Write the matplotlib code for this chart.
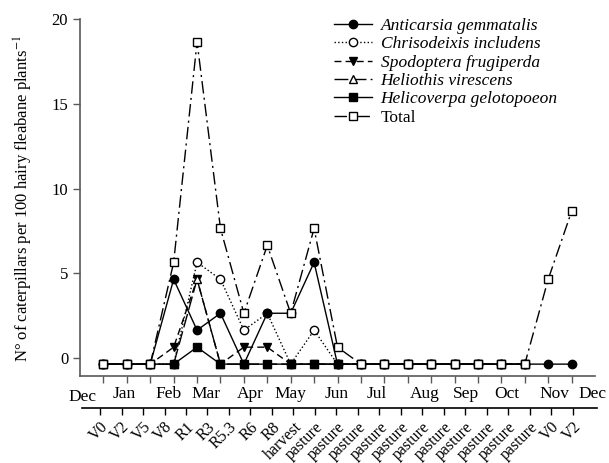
import numpy as np
import matplotlib
matplotlib.use('Agg')
import matplotlib.pyplot as plt

plt.rcParams['font.family'] = ['Liberation Serif', 'DejaVu Serif']
plt.rcParams['mathtext.fontset'] = 'stix'

# 数据 (21 个采样日期)
nan = np.nan
anticarsia = [-0.35, -0.35, -0.35, 4.65, 1.65, 2.65, -0.35, 2.65, 2.65, 5.65, -0.35,
              -0.35, -0.35, -0.35, -0.35, -0.35, -0.35, -0.35, -0.35, -0.35, -0.35]
chrisodeixis = [-0.35, -0.35, -0.35, -0.35, 5.65, 4.65, 1.65, 2.65, -0.35, 1.65, -0.35,
                -0.35, -0.35, -0.35, -0.35, -0.35, -0.35, -0.35, -0.35, nan, nan]
spodoptera = [-0.35, -0.35, -0.35, 0.65, 4.65, -0.35, 0.65, 0.65, -0.35, -0.35, -0.35,
              -0.35, -0.35, -0.35, -0.35, -0.35, -0.35, -0.35, -0.35, nan, nan]
heliothis = [-0.35, -0.35, -0.35, -0.35, 4.65, -0.35, -0.35, -0.35, -0.35, -0.35, -0.35,
             -0.35, -0.35, -0.35, -0.35, -0.35, -0.35, -0.35, -0.35, nan, nan]
helicoverpa = [-0.35, -0.35, -0.35, -0.35, 0.65, -0.35, -0.35, -0.35, -0.35, -0.35, -0.35,
               -0.35, -0.35, -0.35, -0.35, -0.35, -0.35, -0.35, -0.35, nan, nan]
total = [-0.35, -0.35, -0.35, 5.65, 18.65, 7.65, 2.65, 6.65, 2.65, 7.65, 0.65,
         -0.35, -0.35, -0.35, -0.35, -0.35, -0.35, -0.35, -0.35, 4.65, 8.65]

months = ['Dec', 'Jan', 'Feb', 'Mar', 'Apr', 'May', 'Jun', 'Jul', 'Aug', 'Sep', 'Oct', 'Nov', 'Dec']
month_pos = [-0.9, 0.9, 2.77, 4.39, 6.27, 7.97, 9.98, 11.69, 13.73, 15.48, 17.23, 19.28, 20.9]

stages = ['V0', 'V2', 'V5', 'V8', 'R1', 'R3', 'R5.3', 'R6', 'R8', 'harvest'] + \
         ['pasture'] * 11 + ['V0', 'V2']

x = np.arange(len(total))

fig = plt.figure(figsize=(6.09, 4.63), dpi=100)
ax = fig.add_axes([0.1314, 0.1879, 0.8456, 0.7711])

ms = 6
ax.plot(x, anticarsia, color='k', lw=1, ls='-', marker='o', ms=ms, mfc='k', mec='k',
        label='Anticarsia gemmatalis', zorder=6)
ax.plot(x, chrisodeixis, color='k', lw=1, ls=':', marker='o', ms=ms, mfc='white', mec='k',
        label='Chrisodeixis includens', zorder=2)
ax.plot(x, spodoptera, color='k', lw=1, ls=(0, (5, 3)), marker='v', ms=ms, mfc='k', mec='k',
        label='Spodoptera frugiperda', zorder=3)
ax.plot(x, heliothis, color='k', lw=1, ls=(0, (10, 3)), marker='^', ms=ms, mfc='white', mec='k',
        label='Heliothis virescens', zorder=4)
ax.plot(x, helicoverpa, color='k', lw=1, ls='-', marker='s', ms=5.5, mfc='k', mec='k',
        label='Helicoverpa gelotopoeon', zorder=5)
ax.plot(x, total, color='k', lw=1, ls=(0, (9, 3, 1.5, 3)), marker='s', ms=6, mfc='white', mec='k',
        label='Total', zorder=7)

ax.set_xlim(-1, 21)
ax.set_ylim(-1.05, 20)
ax.set_yticks([0, 5, 10, 15, 20])
ax.set_xticks(x)
ax.set_xticklabels([])
ax.tick_params(axis='both', direction='out', length=5, width=1, color='0.35', labelsize=12)
ax.spines['top'].set_visible(False)
ax.spines['right'].set_visible(False)
for s in ['left', 'bottom']:
    ax.spines[s].set_color('0.35')
    ax.spines[s].set_linewidth(1.2)

# 月份标签
for m, p in zip(months, month_pos):
    dy = -2.3 if (m == 'Dec' and p < 0) else -2.1
    ax.text(p, dy, m, ha='center', va='center', fontsize=12.5)

fig.text(0.038, 0.572, 'N° of caterpillars per 100 hairy fleabane plants$^{-1}$',
         rotation=90, ha='center', va='center', fontsize=12)

# 图例
leg = ax.legend(loc='upper left', bbox_to_anchor=(325 / 609, 1 - 9 / 463),
                bbox_transform=fig.transFigure, frameon=False, fontsize=12.5,
                handlelength=2.2, handletextpad=0.5, labelspacing=0.13, borderpad=0)
for t in leg.get_texts()[:5]:
    t.set_style('italic')

# 物候期坐标轴
ax2 = fig.add_axes([0.1346, 0.1188, 0.8456, 0.001])
ax2.patch.set_visible(False)
for s in ['top', 'right', 'left']:
    ax2.spines[s].set_visible(False)
ax2.spines['bottom'].set_linewidth(1.2)
ax2.set_yticks([])
sx = np.arange(len(stages))
ax2.set_xlim(-0.84, 23.12)
ax2.set_xticks(sx)
ax2.set_xticklabels(stages, rotation=45, ha='right', va='top', rotation_mode='anchor', fontsize=11.5)
ax2.tick_params(axis='x', direction='out', length=5, width=1, pad=3)

fig.savefig('out.png', dpi=100)
